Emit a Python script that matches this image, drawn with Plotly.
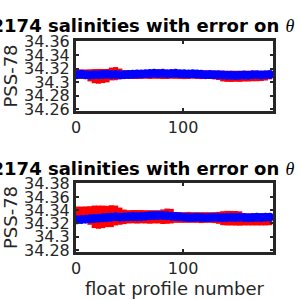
import plotly.graph_objects as go

profiles = [1, 5, 9, 13, 17, 21, 25, 29, 33, 37, 41, 45, 49, 53, 57, 61, 65, 69, 73, 77,
            81, 85, 89, 93, 97, 101, 105, 109, 113, 117, 121, 125, 129, 133, 137, 141,
            145, 149, 153, 157, 161, 165, 169, 173, 177, 181]

top_blue = [34.3110, 34.3115, 34.3110, 34.3105, 34.3110, 34.3108, 34.3112, 34.3115, 34.3110, 34.3112,
            34.3108, 34.3110, 34.3112, 34.3115, 34.3118, 34.3120, 34.3125, 34.3128, 34.3130, 34.3128,
            34.3130, 34.3125, 34.3128, 34.3130, 34.3125, 34.3122, 34.3120, 34.3125, 34.3118, 34.3115,
            34.3110, 34.3112, 34.3110, 34.3108, 34.3105, 34.3100, 34.3102, 34.3098, 34.3100, 34.3105,
            34.3102, 34.3108, 34.3110, 34.3105, 34.3110, 34.3112]
top_red = [34.3118, 34.3118, 34.3115, 34.3100, 34.3088, 34.3085, 34.3090, 34.3095, 34.3120, 34.3125,
           34.3120, 34.3110, 34.3112, 34.3110, 34.3108, 34.3110, 34.3112, 34.3110, 34.3112, 34.3110,
           34.3108, 34.3110, 34.3112, 34.3110, 34.3110, 34.3108, 34.3110, 34.3112, 34.3110, 34.3108,
           34.3110, 34.3108, 34.3105, 34.3100, 34.3090, 34.3085, 34.3085, 34.3086, 34.3085, 34.3088,
           34.3088, 34.3090, 34.3090, 34.3092, 34.3095, 34.3105]
top_err = [0.0070, 0.0070, 0.0072, 0.0090, 0.0105, 0.0110, 0.0105, 0.0100, 0.0095, 0.0098,
           0.0080, 0.0065, 0.0063, 0.0064, 0.0063, 0.0062, 0.0063, 0.0064, 0.0063, 0.0062,
           0.0063, 0.0064, 0.0063, 0.0062, 0.0063, 0.0064, 0.0063, 0.0062, 0.0063, 0.0064,
           0.0063, 0.0063, 0.0065, 0.0070, 0.0080, 0.0082, 0.0083, 0.0082, 0.0082, 0.0080,
           0.0080, 0.0078, 0.0078, 0.0076, 0.0072, 0.0065]

bot_blue = [34.3255, 34.3260, 34.3265, 34.3270, 34.3275, 34.3280, 34.3285, 34.3290, 34.3295, 34.3300,
            34.3295, 34.3298, 34.3300, 34.3305, 34.3300, 34.3305, 34.3310, 34.3315, 34.3320, 34.3322,
            34.3320, 34.3315, 34.3310, 34.3305, 34.3300, 34.3295, 34.3290, 34.3290, 34.3292, 34.3290,
            34.3288, 34.3290, 34.3292, 34.3290, 34.3288, 34.3290, 34.3292, 34.3290, 34.3295, 34.3290,
            34.3288, 34.3290, 34.3292, 34.3290, 34.3295, 34.3295]
bot_red = [34.3335, 34.3335, 34.3332, 34.3320, 34.3300, 34.3295, 34.3300, 34.3305, 34.3310, 34.3320,
           34.3310, 34.3300, 34.3300, 34.3302, 34.3300, 34.3302, 34.3300, 34.3298, 34.3300, 34.3300,
           34.3302, 34.3310, 34.3310, 34.3292, 34.3290, 34.3290, 34.3292, 34.3290, 34.3290, 34.3288,
           34.3290, 34.3290, 34.3288, 34.3285, 34.3280, 34.3280, 34.3280, 34.3278, 34.3275, 34.3262,
           34.3260, 34.3260, 34.3262, 34.3260, 34.3260, 34.3262]
bot_err = [0.0120, 0.0120, 0.0125, 0.0140, 0.0170, 0.0175, 0.0170, 0.0160, 0.0165, 0.0150,
           0.0130, 0.0110, 0.0100, 0.0100, 0.0102, 0.0100, 0.0100, 0.0102, 0.0100, 0.0100,
           0.0110, 0.0115, 0.0110, 0.0082, 0.0080, 0.0080, 0.0082, 0.0080, 0.0080, 0.0082,
           0.0080, 0.0080, 0.0082, 0.0090, 0.0105, 0.0110, 0.0110, 0.0110, 0.0108, 0.0092,
           0.0090, 0.0090, 0.0092, 0.0090, 0.0090, 0.0088]

top_ticks = [34.26, 34.28, 34.30, 34.32, 34.34, 34.36]
top_ticktext = ["34.26", "34.28", "34.3", "34.32", "34.34", "34.36"]
bot_ticks = [34.28, 34.30, 34.32, 34.34, 34.36, 34.38]
bot_ticktext = ["34.28", "34.3", "34.32", "34.34", "34.36", "34.38"]
x_ticks = [0, 100, 200]

title_text = ('1902174 salinities with error on '
              '<span style="font-family:Liberation Serif;font-weight:normal;font-style:italic">θ</span>')

AX = "#262626"
FONT = "DejaVu Sans"

fig = go.Figure()
for (red, err, blue, xa, ya) in [(top_red, top_err, top_blue, "x", "y"),
                                 (bot_red, bot_err, bot_blue, "x2", "y2")]:
    fig.add_trace(go.Scatter(
        x=profiles, y=red, mode="markers", xaxis=xa, yaxis=ya,
        marker=dict(size=1, color="#FF0000"),
        error_y=dict(type="data", array=err, color="#FF0000", thickness=5, width=0),
        showlegend=False))
    fig.add_trace(go.Scatter(
        x=profiles, y=blue, mode="lines+markers", xaxis=xa, yaxis=ya,
        line=dict(color="#0000FF", width=3),
        marker=dict(size=9, color="#0000FF"),
        showlegend=False))

axis_common = dict(showgrid=False, zeroline=False, showline=True, linecolor=AX, linewidth=3,
                   mirror="ticks", ticks="inside", ticklen=3, tickwidth=2, tickcolor=AX,
                   automargin=False,
                   tickfont=dict(family=FONT, size=16, color=AX))
title_font = dict(family=FONT, size=18, color=AX)

fig.update_layout(
    width=300, height=300, margin=dict(l=0, r=0, t=0, b=0),
    paper_bgcolor="white", plot_bgcolor="white",
    xaxis=dict(domain=[0.2533, 0.91], anchor="y", range=[0, 184], tickvals=x_ticks, **axis_common),
    yaxis=dict(domain=[0.63, 0.8633], anchor="x", range=[34.257, 34.361],
               tickvals=top_ticks, ticktext=top_ticktext,
               title=dict(text="PSS-78", font=title_font, standoff=2),
               **axis_common),
    xaxis2=dict(domain=[0.2533, 0.91], anchor="y2", range=[0, 184], tickvals=x_ticks,
                title=dict(text="float profile number", font=title_font, standoff=2),
                **axis_common),
    yaxis2=dict(domain=[0.16, 0.39], anchor="x2", range=[34.277, 34.381],
                tickvals=bot_ticks, ticktext=bot_ticktext,
                title=dict(text="PSS-78", font=title_font, standoff=2),
                **axis_common),
)

for ytop in [38, 181]:
    fig.add_annotation(text=title_text, xref="paper", yref="paper",
                       x=297 / 300, y=(300 - ytop) / 300, xanchor="right", yanchor="bottom",
                       showarrow=False,
                       font=dict(family=FONT, size=18, color="black", weight="bold"))

fig.write_html("out.html")
